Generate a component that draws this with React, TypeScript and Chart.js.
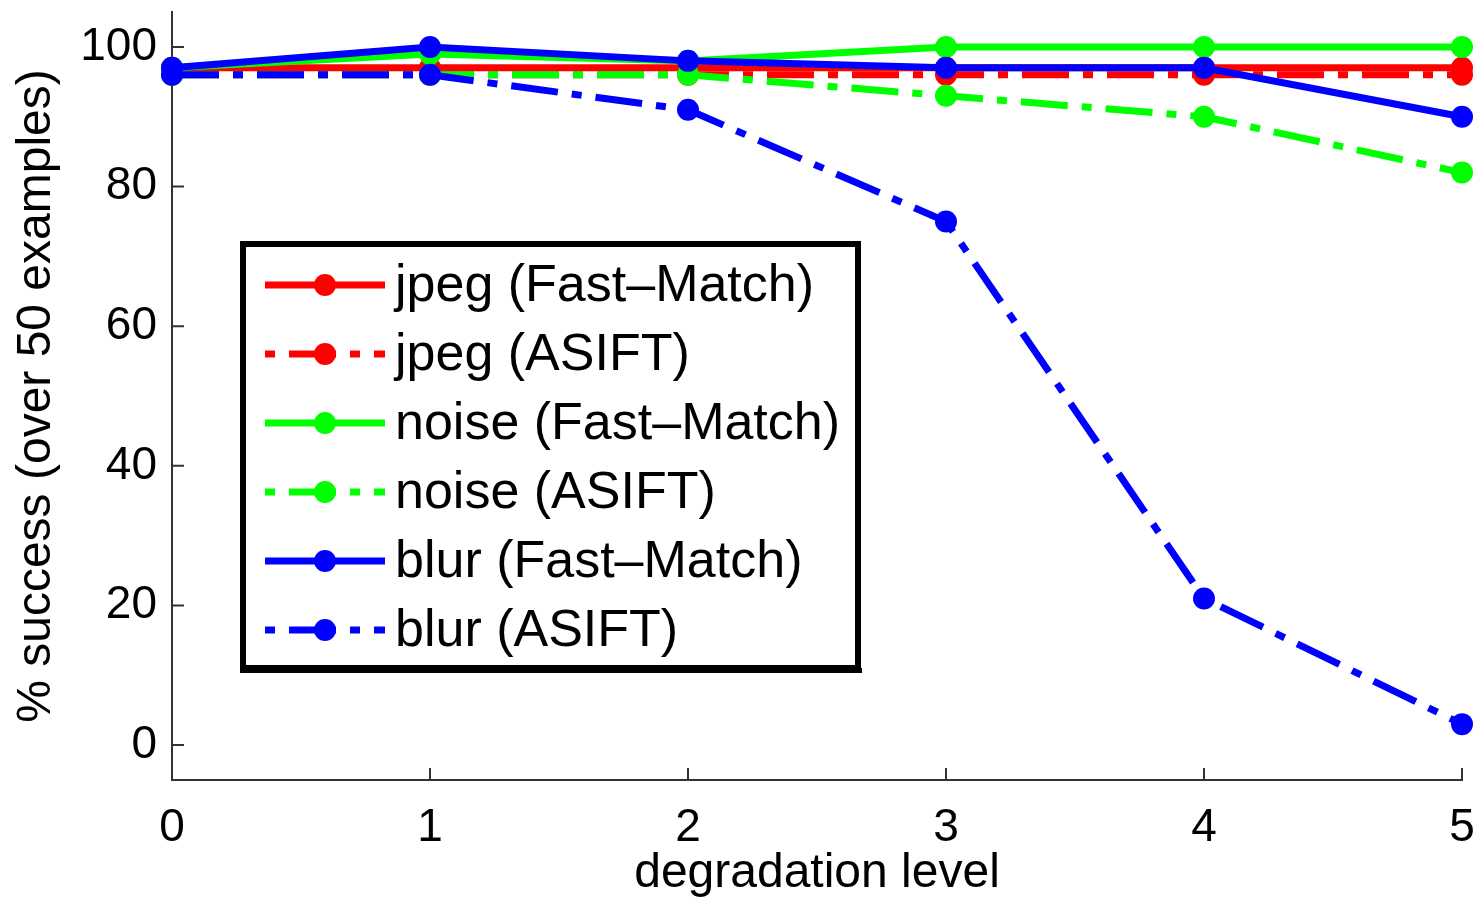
import React, { useEffect, useRef } from 'react';
import { Chart, registerables } from 'chart.js';

Chart.register(...registerables);

const levels = [0, 1, 2, 3, 4, 5];
const jpegFastMatch = [97, 97, 97, 97, 97, 97];
const jpegAsift = [96, 96, 96, 96, 96, 96];
const noiseFastMatch = [97, 99, 98, 100, 100, 100];
const noiseAsift = [96, 96, 96, 93, 90, 82];
const blurFastMatch = [97, 100, 98, 97, 97, 90];
const blurAsift = [96, 96, 91, 75, 21, 3];
const xTickValues = [0, 1, 2, 3, 4, 5];
const yTickValues = [0, 20, 40, 60, 80, 100];
const seriesLabels = [
  'jpeg (Fast\u2013Match)',
  'jpeg (ASIFT)',
  'noise (Fast\u2013Match)',
  'noise (ASIFT)',
  'blur (Fast\u2013Match)',
  'blur (ASIFT)',
];
const xTitle = 'degradation level';
const yTitle = '% success (over 50 examples)';

const FONT = '"Liberation Sans", Arial, Helvetica, sans-serif';
const DASHDOT = [47, 14, 10, 14];
const AXIS_COLOR = '#333333';

function makeSet(label: string, values: number[], color: string, dashed: boolean, order: number) {
  return {
    label,
    data: levels.map((x, i) => ({ x, y: values[i] })),
    borderColor: color,
    backgroundColor: color,
    borderWidth: 7,
    borderDash: dashed ? DASHDOT : [],
    borderCapStyle: 'butt',
    pointRadius: 11,
    pointHoverRadius: 11,
    pointBackgroundColor: color,
    pointBorderColor: color,
    pointBorderWidth: 0,
    tension: 0,
    clip: false,
    order,
  };
}

const tickPlugin = {
  id: 'inwardTicks',
  beforeDatasetsDraw(chart: any) {
    const { ctx, chartArea, scales } = chart;
    ctx.save();
    ctx.strokeStyle = AXIS_COLOR;
    ctx.lineWidth = 2;
    ctx.beginPath();
    xTickValues.forEach((v) => {
      const px = scales.x.getPixelForValue(v);
      ctx.moveTo(px, chartArea.bottom);
      ctx.lineTo(px, chartArea.bottom - 12);
    });
    yTickValues.forEach((v) => {
      const py = scales.y.getPixelForValue(v);
      ctx.moveTo(chartArea.left, py);
      ctx.lineTo(chartArea.left + 12, py);
    });
    ctx.stroke();
    ctx.restore();
  },
};

const legendPlugin = {
  id: 'boxLegend',
  afterDraw(chart: any) {
    const { ctx } = chart;
    ctx.save();
    ctx.fillStyle = '#ffffff';
    ctx.fillRect(243, 244, 615, 424);
    ctx.strokeStyle = '#000000';
    ctx.lineWidth = 6;
    ctx.setLineDash([]);
    ctx.strokeRect(243, 244, 615, 424);
    ctx.fillStyle = '#000000';
    ctx.fillRect(240, 668, 622, 5);
    chart.data.datasets.forEach((ds: any, i: number) => {
      const y = 285 + i * 69;
      ctx.strokeStyle = ds.borderColor;
      ctx.lineWidth = ds.borderWidth;
      ctx.lineCap = 'butt';
      const dash = ds.borderDash || [];
      ctx.setLineDash(dash);
      ctx.lineDashOffset = dash.length ? dash[0] + dash[1] : 0;
      ctx.beginPath();
      ctx.moveTo(265, y);
      ctx.lineTo(385, y);
      ctx.stroke();
      ctx.setLineDash([]);
      ctx.fillStyle = ds.borderColor;
      ctx.beginPath();
      ctx.arc(325, y, ds.pointRadius, 0, Math.PI * 2);
      ctx.fill();
      ctx.fillStyle = '#000000';
      ctx.font = `52px ${FONT}`;
      ctx.textAlign = 'left';
      ctx.textBaseline = 'middle';
      ctx.fillText(ds.label, 395, y + 2);
    });
    ctx.restore();
  },
};

export default function App() {
  const ref = useRef<HTMLCanvasElement | null>(null);

  useEffect(() => {
    document.body.style.margin = '0';
    const canvas = ref.current;
    if (!canvas) return;
    const colors = ['#ff0000', '#ff0000', '#00ff00', '#00ff00', '#0000ff', '#0000ff'];
    const values = [jpegFastMatch, jpegAsift, noiseFastMatch, noiseAsift, blurFastMatch, blurAsift];
    const datasets = values.map((vals, i) =>
      makeSet(seriesLabels[i], vals, colors[i], i % 2 === 1, values.length - i)
    );
    const chart = new Chart(canvas, {
      type: 'line',
      data: { datasets } as any,
      options: {
        animation: false,
        responsive: false,
        maintainAspectRatio: false,
        events: [],
        layout: { padding: { left: 0, right: 16, top: 12, bottom: 0 } },
        plugins: {
          legend: { display: false },
          tooltip: { enabled: false },
        },
        scales: {
          x: {
            type: 'linear',
            min: 0,
            max: 5,
            afterBuildTicks: (s: any) => {
              s.ticks = xTickValues.map((v) => ({ value: v }));
            },
            afterFit: (s: any) => {
              s.height = 118;
              s.paddingLeft = 0;
              s.paddingRight = 0;
            },
            grid: { display: false, drawTicks: false },
            border: { display: true, color: AXIS_COLOR, width: 2 },
            ticks: {
              color: '#000000',
              font: { family: FONT, size: 46 },
              padding: 21,
              maxRotation: 0,
              autoSkip: false,
              callback: (v: any) => String(v),
            },
            title: {
              display: true,
              text: xTitle,
              color: '#000000',
              font: { family: FONT, size: 48, lineHeight: 1 },
              padding: { top: 0, bottom: 0 },
            },
          },
          y: {
            type: 'linear',
            min: -5,
            max: 105,
            afterBuildTicks: (s: any) => {
              s.ticks = yTickValues.map((v) => ({ value: v }));
            },
            afterFit: (s: any) => {
              s.width = 172;
              s.paddingTop = 0;
              s.paddingBottom = 0;
            },
            grid: { display: false, drawTicks: false },
            border: { display: true, color: AXIS_COLOR, width: 2 },
            ticks: {
              color: '#000000',
              font: { family: FONT, size: 46 },
              padding: 15,
              autoSkip: false,
              callback: (v: any) => String(v),
            },
            title: {
              display: true,
              text: yTitle,
              color: '#000000',
              font: { family: FONT, size: 48, lineHeight: 1 },
              padding: { top: 13, bottom: 0 },
            },
          },
        },
      } as any,
      plugins: [tickPlugin, legendPlugin],
    });
    return () => chart.destroy();
  }, []);

  return (
    <canvas
      ref={ref}
      width={1478}
      height={898}
      style={{ position: 'fixed', left: 0, top: 0, width: 1478, height: 898 }}
    />
  );
}
